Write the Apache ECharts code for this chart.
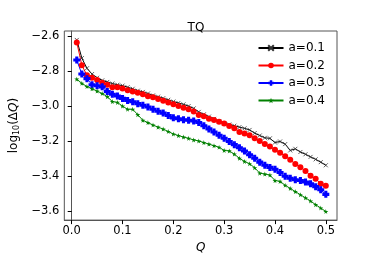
<!DOCTYPE html>
<html><head><meta charset="utf-8">
<script src="https://cdn.jsdelivr.net/npm/echarts@6/dist/echarts.min.js"></script>
<style>html,body{margin:0;padding:0;background:#fff}#c{width:374px;height:259px}</style>
</head><body><div id="c"></div>
<script>
const xValues = [0.01,0.02,0.03,0.04,0.05,0.06,0.07,0.08,0.09,0.10,0.11,0.12,0.13,0.14,0.15,0.16,0.17,0.18,0.19,0.20,0.21,0.22,0.23,0.24,0.25,0.26,0.27,0.28,0.29,0.30,0.31,0.32,0.33,0.34,0.35,0.36,0.37,0.38,0.39,0.40,0.41,0.42,0.43,0.44,0.45,0.46,0.47,0.48,0.49,0.50];
const a01 = [-2.622,-2.726,-2.784,-2.817,-2.838,-2.853,-2.862,-2.871,-2.878,-2.883,-2.892,-2.901,-2.912,-2.919,-2.928,-2.939,-2.946,-2.955,-2.964,-2.974,-2.982,-2.990,-3.000,-3.013,-3.033,-3.047,-3.060,-3.073,-3.087,-3.098,-3.105,-3.112,-3.120,-3.127,-3.136,-3.154,-3.168,-3.181,-3.184,-3.208,-3.202,-3.217,-3.253,-3.244,-3.262,-3.275,-3.290,-3.304,-3.320,-3.338];
const a02 = [-2.636,-2.766,-2.824,-2.838,-2.851,-2.866,-2.878,-2.892,-2.892,-2.900,-2.910,-2.917,-2.923,-2.932,-2.943,-2.950,-2.959,-2.970,-2.979,-2.990,-3.000,-3.009,-3.018,-3.031,-3.051,-3.058,-3.072,-3.080,-3.090,-3.100,-3.114,-3.127,-3.148,-3.157,-3.166,-3.184,-3.199,-3.217,-3.231,-3.249,-3.267,-3.286,-3.307,-3.331,-3.349,-3.370,-3.397,-3.415,-3.443,-3.455];
const a03 = [-2.737,-2.817,-2.843,-2.878,-2.884,-2.890,-2.917,-2.932,-2.942,-2.956,-2.968,-2.975,-2.986,-2.995,-3.005,-3.018,-3.029,-3.040,-3.054,-3.067,-3.072,-3.078,-3.081,-3.085,-3.094,-3.112,-3.130,-3.148,-3.166,-3.184,-3.202,-3.220,-3.238,-3.256,-3.278,-3.298,-3.320,-3.338,-3.350,-3.361,-3.379,-3.401,-3.412,-3.421,-3.425,-3.433,-3.444,-3.460,-3.478,-3.504];
const a04 = [-2.846,-2.870,-2.888,-2.901,-2.914,-2.928,-2.946,-2.974,-2.979,-3.000,-3.018,-3.018,-3.049,-3.081,-3.094,-3.108,-3.120,-3.131,-3.145,-3.159,-3.168,-3.177,-3.184,-3.193,-3.199,-3.208,-3.217,-3.226,-3.235,-3.253,-3.256,-3.274,-3.298,-3.316,-3.329,-3.352,-3.383,-3.388,-3.394,-3.425,-3.430,-3.452,-3.470,-3.488,-3.506,-3.524,-3.542,-3.563,-3.582,-3.602];
const seriesNames = ['a=0.1','a=0.2','a=0.3','a=0.4'];
const xTicks = [0,0.1,0.2,0.3,0.4,0.5];
const yTicks = [-3.6,-3.4,-3.2,-3.0,-2.8,-2.6];

const font = 'DejaVu Sans';
const fmt = v => (Math.abs(v) < 1e-9 ? 0 : v).toFixed(1).replace('-', '\u2212');
const pair = ys => xValues.map((x, i) => [x, ys[i]]);
const starPath = 'path://M50,0L61,35L98,35L68,57L79,91L50,70L21,91L32,57L2,35L39,35Z';
const plusPath = 'path://M28,0L72,0L72,28L100,28L100,72L72,72L72,100L28,100L28,72L0,72L0,28L28,28Z';
const xPath = 'path://M0,0L10,10M10,0L0,10';

const mk = (name, ys, color, symbol, size, extra) => Object.assign({
  name, type: 'line', data: pair(ys), symbol, symbolSize: size,
  lineStyle: { color, width: 1 }, itemStyle: { color },
  animation: false
}, extra || {});

const chart = echarts.init(document.getElementById('c'), null, { renderer: 'canvas' });
chart.setOption({
  animation: false,
  title: { text: 'TQ', left: 191, top: 17, textAlign: 'center',
    textStyle: { fontFamily: font, fontSize: 12, fontWeight: 'normal', color: '#000' } },
  grid: { left: 47, right: 37, top: 31, bottom: 29, show: true, borderColor: '#555', borderWidth: 1, backgroundColor: 'transparent' },
  legend: {
    orient: 'vertical', right: 44, top: 37, itemWidth: 25, itemHeight: 7, itemGap: 5.5,
    textStyle: { fontFamily: font, fontSize: 12, color: '#000' },
    data: seriesNames
  },
  xAxis: {
    type: 'value', min: -0.0145, max: 0.522,
    name: 'Q', nameLocation: 'middle', nameGap: 19,
    nameTextStyle: { fontFamily: font, fontSize: 12, fontStyle: 'italic', color: '#000' },
    axisLine: { show: true, lineStyle: { color: '#555' } },
    axisTick: { show: true, length: 4, lineStyle: { color: '#000' }, customValues: xTicks },
    axisLabel: { fontFamily: font, fontSize: 11.5, color: '#000', margin: 5, customValues: xTicks, formatter: fmt },
    splitLine: { show: false }
  },
  yAxis: {
    type: 'value', min: -3.651, max: -2.571,
    name: '{a|log}{s|10}{a|(\u0394}{i|Q}{a|)}', nameLocation: 'middle', nameGap: 39, nameRotate: 90,
    nameTextStyle: { fontFamily: font, fontSize: 12, color: '#000',
      rich: {
        a: { fontFamily: font, fontSize: 12, color: '#000' },
        s: { fontFamily: font, fontSize: 8, color: '#000', padding: [5, 0, 0, 0] },
        i: { fontFamily: font, fontSize: 12, fontStyle: 'italic', color: '#000' }
      } },
    axisLine: { show: true, lineStyle: { color: '#555' } },
    axisTick: { show: true, length: 4, lineStyle: { color: '#000' }, customValues: yTicks },
    axisLabel: { fontFamily: font, fontSize: 11.5, color: '#000', margin: 5, customValues: yTicks, formatter: fmt },
    splitLine: { show: false }
  },
  series: [
    mk(seriesNames[0], a01, '#000000', xPath, 4, { itemStyle: { color: 'transparent', borderColor: '#333', borderWidth: 0.8 } }),
    mk(seriesNames[1], a02, '#ff0000', 'circle', 6),
    mk(seriesNames[2], a03, '#0000ff', plusPath, 7),
    mk(seriesNames[3], a04, '#008000', starPath, 5)
  ]
});
</script></body></html>
